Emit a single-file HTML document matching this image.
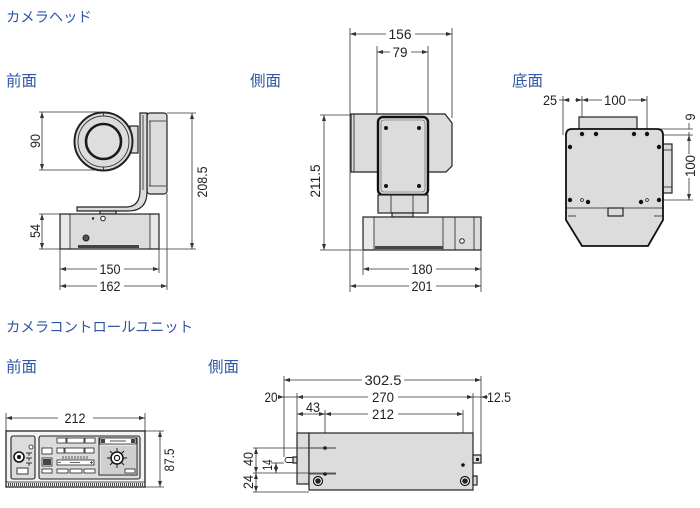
<!DOCTYPE html>
<html><head><meta charset="utf-8">
<style>
html,body{margin:0;padding:0;background:#fff;}
svg{display:block;}
.h{font-family:"Liberation Sans","Noto Sans CJK JP",sans-serif;fill:#2f56a8;}
.n{font-family:"Liberation Sans",sans-serif;font-size:14px;fill:#222;}
.d{stroke:#333;stroke-width:.8;fill:none;}
.o{stroke:#222;stroke-width:1.2;fill:#dcdcdc;}
.t{stroke:#222;stroke-width:.8;fill:none;}
</style></head>
<body>
<svg width="700" height="508" viewBox="0 0 700 508" xmlns="http://www.w3.org/2000/svg">
<defs>
<marker id="a" viewBox="0 0 6 4" refX="6" refY="2" markerWidth="6" markerHeight="4" markerUnits="userSpaceOnUse" orient="auto"><path d="M0,0L6,2L0,4z" fill="#333"/></marker>
</defs>

<!-- headings -->
<text class="h" x="6" y="22" font-size="14.3">カメラヘッド</text>
<text class="h" x="6" y="86" font-size="15.5">前面</text>
<text class="h" x="250" y="86" font-size="15.5">側面</text>
<text class="h" x="512" y="86" font-size="15.5">底面</text>
<text class="h" x="6" y="332" font-size="14.4">カメラコントロールユニット</text>
<text class="h" x="6" y="372" font-size="15.5">前面</text>
<text class="h" x="208" y="372" font-size="15.5">側面</text>

<!-- ============ CAMERA FRONT ============ -->
<!-- extension lines -->
<line class="d" x1="39" y1="112" x2="100" y2="112"/>
<line class="d" x1="39" y1="170" x2="100" y2="170"/>
<line class="d" x1="39" y1="214" x2="60" y2="214"/>
<line class="d" x1="39" y1="249" x2="60" y2="249"/>
<line class="d" x1="167" y1="113" x2="196" y2="113"/>
<line class="d" x1="159" y1="249" x2="196" y2="249"/>
<line class="d" x1="60" y1="249" x2="60" y2="290"/>
<line class="d" x1="159" y1="249" x2="159" y2="273"/>
<line class="d" x1="167" y1="194" x2="167" y2="290"/>
<!-- dims -->
<line class="d" x1="42" y1="141" x2="42" y2="112" marker-end="url(#a)"/>
<line class="d" x1="42" y1="141" x2="42" y2="170" marker-end="url(#a)"/>
<line class="d" x1="42" y1="231" x2="42" y2="214" marker-end="url(#a)"/>
<line class="d" x1="42" y1="231" x2="42" y2="249" marker-end="url(#a)"/>
<line class="d" x1="192" y1="180" x2="192" y2="113" marker-end="url(#a)"/>
<line class="d" x1="192" y1="180" x2="192" y2="249" marker-end="url(#a)"/>
<line class="d" x1="97" y1="269" x2="60" y2="269" marker-end="url(#a)"/>
<line class="d" x1="124" y1="269" x2="159" y2="269" marker-end="url(#a)"/>
<line class="d" x1="97" y1="286" x2="60" y2="286" marker-end="url(#a)"/>
<line class="d" x1="124" y1="286" x2="167" y2="286" marker-end="url(#a)"/>
<text class="n" transform="translate(40,141) rotate(-90)" text-anchor="middle" textLength="14" lengthAdjust="spacingAndGlyphs">90</text>
<text class="n" transform="translate(40,231) rotate(-90)" text-anchor="middle" textLength="14" lengthAdjust="spacingAndGlyphs">54</text>
<text class="n" transform="translate(207,182) rotate(-90)" text-anchor="middle" textLength="31" lengthAdjust="spacingAndGlyphs">208.5</text>
<text class="n" x="110" y="274" text-anchor="middle" textLength="21" lengthAdjust="spacingAndGlyphs">150</text>
<text class="n" x="110" y="291" text-anchor="middle" textLength="21" lengthAdjust="spacingAndGlyphs">162</text>
<!-- right panel -->
<rect class="o" x="147" y="113" width="20" height="81" rx="3"/>
<line class="t" x1="149" y1="121" x2="166" y2="121"/>
<line class="t" x1="149" y1="186" x2="166" y2="186"/>
<line class="t" x1="150" y1="121" x2="150" y2="186"/>
<!-- arm -->
<path class="o" d="M140,113 L147,113 L147,192 Q147,211 128,211 L77,211 L77,207 L126,207 Q140,207 140,190 Z"/>
<line class="t" x1="143" y1="115" x2="143" y2="190"/>
<rect class="o" x="100" y="211" width="16" height="3"/>
<!-- tab -->
<rect class="o" x="130" y="126" width="8" height="27"/>
<!-- lens -->
<circle cx="103.5" cy="141.5" r="29" fill="#dcdcdc" stroke="#222" stroke-width="2"/>
<circle cx="103.5" cy="141.5" r="25.5" fill="none" stroke="#333" stroke-width=".9"/>
<circle cx="103.5" cy="141.5" r="17.5" fill="#dedede" stroke="#1a1a1a" stroke-width="2.6"/>
<line class="t" x1="103.5" y1="112.5" x2="103.5" y2="116"/>
<line class="t" x1="103.5" y1="167" x2="103.5" y2="170.5"/>
<!-- base -->
<rect class="o" x="60" y="214" width="99" height="35"/>
<rect x="61" y="215" width="9" height="33" fill="#e8e8e8"/>
<rect x="150" y="215" width="8" height="33" fill="#e8e8e8"/>
<line class="t" x1="70" y1="214" x2="70" y2="249"/>
<line class="t" x1="150" y1="214" x2="150" y2="249"/>
<rect x="78" y="245" width="61" height="3" fill="#444"/>
<circle cx="93" cy="218.5" r="1.2" fill="#222"/>
<circle cx="103" cy="218.5" r="2.3" fill="#fff" stroke="#222" stroke-width="1"/>
<circle cx="86" cy="238" r="3" fill="#555" stroke="#222" stroke-width="1"/>

<!-- ============ CAMERA SIDE ============ -->
<line class="d" x1="350" y1="28" x2="350" y2="292"/>
<line class="d" x1="452" y1="28" x2="452" y2="118"/>
<line class="d" x1="377" y1="46" x2="377" y2="118"/>
<line class="d" x1="428" y1="46" x2="428" y2="118"/>
<line class="d" x1="481" y1="250" x2="481" y2="292"/>
<line class="d" x1="363" y1="250" x2="363" y2="275"/>
<line class="d" x1="320" y1="115" x2="351" y2="115"/>
<line class="d" x1="320" y1="250" x2="362" y2="250"/>
<line class="d" x1="386" y1="34" x2="350" y2="34" marker-end="url(#a)"/>
<line class="d" x1="415" y1="34" x2="452" y2="34" marker-end="url(#a)"/>
<line class="d" x1="390" y1="52" x2="377" y2="52" marker-end="url(#a)"/>
<line class="d" x1="411" y1="52" x2="428" y2="52" marker-end="url(#a)"/>
<line class="d" x1="324" y1="180" x2="324" y2="115" marker-end="url(#a)"/>
<line class="d" x1="324" y1="180" x2="324" y2="250" marker-end="url(#a)"/>
<line class="d" x1="409" y1="269" x2="363" y2="269" marker-end="url(#a)"/>
<line class="d" x1="436" y1="269" x2="481" y2="269" marker-end="url(#a)"/>
<line class="d" x1="409" y1="286" x2="350" y2="286" marker-end="url(#a)"/>
<line class="d" x1="436" y1="286" x2="481" y2="286" marker-end="url(#a)"/>
<text class="n" x="400" y="39" text-anchor="middle" textLength="23" lengthAdjust="spacingAndGlyphs">156</text>
<text class="n" x="400" y="57" text-anchor="middle" textLength="15" lengthAdjust="spacingAndGlyphs">79</text>
<text class="n" transform="translate(320,181) rotate(-90)" text-anchor="middle" textLength="33" lengthAdjust="spacingAndGlyphs">211.5</text>
<text class="n" x="422" y="274" text-anchor="middle" textLength="21" lengthAdjust="spacingAndGlyphs">180</text>
<text class="n" x="422" y="291" text-anchor="middle" textLength="21" lengthAdjust="spacingAndGlyphs">201</text>
<!-- head -->
<path class="o" d="M351,114 L445,114 L452,123 L452,166 L446,172 L351,172 Z"/>
<line class="t" x1="354" y1="114" x2="354" y2="172"/>
<rect x="378" y="117" width="50" height="78" rx="5" fill="#dcdcdc" stroke="#111" stroke-width="2.4"/>
<rect x="381" y="120" width="44" height="72" rx="3" fill="none" stroke="#555" stroke-width=".6"/>
<circle cx="386" cy="128" r="2" fill="#111"/>
<circle cx="419" cy="128" r="2" fill="#111"/>
<circle cx="386" cy="186" r="2" fill="#111"/>
<circle cx="419" cy="186" r="2" fill="#111"/>
<!-- neck -->
<rect class="o" x="378" y="195" width="50" height="18"/>
<line class="t" x1="391" y1="195" x2="391" y2="213"/>
<line class="t" x1="413" y1="195" x2="413" y2="213"/>
<rect class="o" x="392" y="213" width="21" height="4"/>
<!-- base -->
<rect class="o" x="363" y="217" width="118" height="33"/>
<rect x="364" y="218" width="10" height="31" fill="#e8e8e8"/>
<line class="t" x1="374" y1="217" x2="374" y2="250"/>
<line class="t" x1="443" y1="217" x2="443" y2="250"/>
<line class="t" x1="455" y1="217" x2="455" y2="250"/>
<line class="t" x1="474" y1="217" x2="474" y2="250"/>
<circle cx="462" cy="241" r="2.3" fill="#fff" stroke="#222" stroke-width="1"/>
<rect x="375" y="246" width="68" height="3" fill="#444"/>

<!-- ============ BOTTOM VIEW ============ -->
<line class="d" x1="563" y1="96" x2="563" y2="135"/>
<line class="d" x1="582" y1="96" x2="582" y2="137"/>
<line class="d" x1="647" y1="96" x2="647" y2="137"/>
<line class="d" x1="559" y1="100" x2="563" y2="100"/>
<line class="d" x1="575" y1="100" x2="582" y2="100" marker-end="url(#a)"/>
<line class="d" x1="570" y1="100" x2="563" y2="100" marker-end="url(#a)"/>
<line class="d" x1="602" y1="100" x2="582" y2="100" marker-end="url(#a)"/>
<line class="d" x1="628" y1="100" x2="647" y2="100" marker-end="url(#a)"/>
<text class="n" x="550" y="105" text-anchor="middle" textLength="14" lengthAdjust="spacingAndGlyphs">25</text>
<text class="n" x="615" y="105" text-anchor="middle" textLength="22" lengthAdjust="spacingAndGlyphs">100</text>
<line class="d" x1="659" y1="129" x2="693" y2="129"/>
<line class="d" x1="648" y1="135" x2="693" y2="135"/>
<line class="d" x1="660" y1="200" x2="693" y2="200"/>
<line class="d" x1="689" y1="123" x2="689" y2="129"/>
<line class="d" x1="689" y1="132" x2="689" y2="135"/>
<line class="d" x1="689" y1="154" x2="689" y2="135" marker-end="url(#a)"/>
<line class="d" x1="689" y1="178" x2="689" y2="200" marker-end="url(#a)"/>
<text class="n" transform="translate(695,117) rotate(-90)" text-anchor="middle" textLength="7" lengthAdjust="spacingAndGlyphs">9</text>
<text class="n" transform="translate(695,166) rotate(-90)" text-anchor="middle" textLength="22" lengthAdjust="spacingAndGlyphs">100</text>
<!-- tabs -->
<rect class="o" x="579" y="117" width="58" height="12"/>
<rect class="o" x="663" y="144" width="9" height="49"/>
<line class="t" x1="663" y1="150" x2="672" y2="150"/>
<line class="t" x1="663" y1="187" x2="672" y2="187"/>
<!-- body -->
<path d="M572,129 L657,129 Q663,129 663,135 L663,220 L648,246 L582,246 L566,220 L566,135 Q566,129 572,129 Z" fill="#dcdcdc" stroke="#111" stroke-width="1.8"/>
<line class="t" x1="567" y1="208" x2="662" y2="208"/>
<rect class="o" x="608" y="208" width="15" height="8"/>
<line class="t" x1="568" y1="216" x2="576" y2="216"/>
<line class="t" x1="654" y1="216" x2="662" y2="216"/>
<g fill="#111">
<circle cx="582" cy="134" r="2.2"/><circle cx="596" cy="134" r="2.2"/>
<circle cx="634" cy="134" r="2.2"/><circle cx="647" cy="134" r="2.2"/>
<circle cx="570" cy="147" r="2.2"/><circle cx="659" cy="147" r="2.2"/>
<circle cx="570" cy="200" r="2.2"/><circle cx="588" cy="202" r="2.2"/>
<circle cx="641" cy="202" r="2.2"/><circle cx="659" cy="200" r="2.2"/>
</g>
<circle cx="582" cy="200" r="1.4" fill="#fff" stroke="#111" stroke-width=".8"/>
<circle cx="647" cy="200" r="1.4" fill="#fff" stroke="#111" stroke-width=".8"/>

<!-- ============ CONTROL UNIT FRONT ============ -->
<line class="d" x1="6" y1="413" x2="6" y2="431"/>
<line class="d" x1="145" y1="413" x2="145" y2="431"/>
<line class="d" x1="58" y1="418" x2="6" y2="418" marker-end="url(#a)"/>
<line class="d" x1="93" y1="418" x2="145" y2="418" marker-end="url(#a)"/>
<text class="n" x="75" y="423" text-anchor="middle" textLength="21" lengthAdjust="spacingAndGlyphs">212</text>
<line class="d" x1="145" y1="431" x2="164" y2="431"/>
<line class="d" x1="145" y1="487" x2="164" y2="487"/>
<line class="d" x1="160" y1="459" x2="160" y2="431" marker-end="url(#a)"/>
<line class="d" x1="160" y1="459" x2="160" y2="487" marker-end="url(#a)"/>
<text class="n" transform="translate(174,460) rotate(-90)" text-anchor="middle" textLength="23" lengthAdjust="spacingAndGlyphs">87.5</text>
<rect x="6" y="431" width="139" height="56" fill="#f4f4f4" stroke="#222" stroke-width="1.3"/>
<line x1="8" y1="484.5" x2="143" y2="484.5" stroke="#444" stroke-width="3" stroke-dasharray="1 1"/>
<line class="t" x1="6" y1="482" x2="145" y2="482"/>
<!-- left panel -->
<rect x="11" y="436" width="24" height="43" rx="2" fill="#dcdcdc" stroke="#222" stroke-width="1.1"/>
<circle cx="19" cy="457" r="5" fill="#fff" stroke="#111" stroke-width="1.6"/>
<circle cx="19" cy="457" r="2" fill="#111"/>
<circle cx="31" cy="447" r="2" fill="#fff" stroke="#222" stroke-width=".8"/>
<g stroke="#222" stroke-width=".9">
<line x1="26" y1="453" x2="32" y2="453"/><line x1="29" y1="453" x2="29" y2="456"/>
<line x1="26" y1="458" x2="32" y2="458"/><line x1="29" y1="458" x2="29" y2="461"/>
<line x1="26" y1="463" x2="32" y2="463"/><line x1="29" y1="463" x2="29" y2="466"/>
</g>
<rect x="17" y="468" width="11" height="6" fill="#fff" stroke="#222" stroke-width=".9"/>
<!-- middle panel -->
<rect x="39" y="436" width="101" height="43" rx="2" fill="#dcdcdc" stroke="#222" stroke-width="1.1"/>
<g fill="#fff" stroke="#222" stroke-width=".8">
<rect x="57" y="438" width="9" height="5"/><rect x="67" y="438" width="17" height="5"/><rect x="85" y="438" width="10" height="5"/>
<rect x="42" y="448" width="10" height="6"/><rect x="57" y="448" width="7" height="5"/><rect x="65" y="448" width="19" height="5"/><rect x="85" y="448" width="9" height="5"/>
<rect x="42" y="458" width="10" height="8"/><rect x="57" y="460" width="37" height="5"/>
<rect x="42" y="469" width="10" height="4"/><rect x="57" y="469" width="11" height="4"/><rect x="70" y="469" width="12" height="4"/><rect x="84" y="469" width="11" height="4"/>
</g>
<rect x="43" y="459" width="8" height="6" fill="#444"/>
<g stroke="#222" stroke-width=".7">
<line x1="63" y1="456" x2="63" y2="459"/><line x1="66" y1="456" x2="66" y2="459"/><line x1="69" y1="456" x2="69" y2="459"/><line x1="72" y1="456" x2="72" y2="459"/><line x1="75" y1="456" x2="75" y2="459"/><line x1="78" y1="456" x2="78" y2="459"/><line x1="81" y1="456" x2="81" y2="459"/><line x1="84" y1="456" x2="84" y2="459"/><line x1="87" y1="456" x2="87" y2="459"/>
<line x1="58" y1="462.5" x2="61" y2="462.5"/><line x1="90" y1="462.5" x2="93" y2="462.5"/><line x1="91.5" y1="461" x2="91.5" y2="464"/>
<line x1="70" y1="462.5" x2="80" y2="462.5"/>
</g>
<!-- joystick area -->
<rect x="99" y="438" width="38" height="37" fill="#e6e6e6" stroke="#222" stroke-width="1"/>
<rect x="100" y="438" width="36" height="6" fill="#fff" stroke="#222" stroke-width=".8"/>
<rect x="101" y="439" width="4" height="4" fill="#444"/><rect x="131" y="439" width="4" height="4" fill="#444"/>
<line x1="110" y1="441" x2="126" y2="441" stroke="#222" stroke-width=".8"/>
<rect x="101" y="446" width="35" height="28" fill="#cfcfcf"/>
<g stroke="#111" stroke-width=".9">
<line x1="117" y1="448" x2="117" y2="468"/><line x1="107" y1="458" x2="127" y2="458"/>
<line x1="110" y1="451" x2="124" y2="465"/><line x1="124" y1="451" x2="110" y2="465"/>
</g>
<circle cx="117" cy="458" r="6" fill="#fff" stroke="#111" stroke-width="1.5"/>
<circle cx="117" cy="458" r="2.6" fill="#fff" stroke="#111" stroke-width="1.2"/>
<rect x="125" y="469" width="10" height="4" fill="#fff" stroke="#222" stroke-width=".8"/>

<!-- ============ CONTROL UNIT SIDE ============ -->
<line class="d" x1="284" y1="376" x2="284" y2="457"/>
<line class="d" x1="481" y1="376" x2="481" y2="455"/>
<line class="d" x1="297" y1="393" x2="297" y2="433"/>
<line class="d" x1="473" y1="393" x2="473" y2="433"/>
<line class="d" x1="325" y1="410" x2="325" y2="474"/>
<line class="d" x1="463" y1="410" x2="463" y2="465"/>
<line class="d" x1="362" y1="380" x2="284" y2="380" marker-end="url(#a)"/>
<line class="d" x1="404" y1="380" x2="481" y2="380" marker-end="url(#a)"/>
<text class="n" x="383" y="385" text-anchor="middle" textLength="37" lengthAdjust="spacingAndGlyphs">302.5</text>
<line class="d" x1="278" y1="397" x2="284" y2="397" marker-end="url(#a)"/>
<line class="d" x1="284" y1="397" x2="297" y2="397"/>
<line class="d" x1="368" y1="397" x2="297" y2="397" marker-end="url(#a)"/>
<line class="d" x1="398" y1="397" x2="473" y2="397" marker-end="url(#a)"/>
<line class="d" x1="473" y1="397" x2="481" y2="397"/>
<line class="d" x1="488" y1="397" x2="481" y2="397" marker-end="url(#a)"/>
<text class="n" x="271" y="402" text-anchor="middle" textLength="13" lengthAdjust="spacingAndGlyphs">20</text>
<text class="n" x="383" y="402" text-anchor="middle" textLength="22" lengthAdjust="spacingAndGlyphs">270</text>
<text class="n" x="499" y="402" text-anchor="middle" textLength="24" lengthAdjust="spacingAndGlyphs">12.5</text>
<line class="d" x1="311" y1="414" x2="297" y2="414" marker-end="url(#a)"/>
<line class="d" x1="311" y1="414" x2="325" y2="414" marker-end="url(#a)"/>
<line class="d" x1="368" y1="414" x2="325" y2="414" marker-end="url(#a)"/>
<line class="d" x1="398" y1="414" x2="463" y2="414" marker-end="url(#a)"/>
<text class="n" x="313" y="412" text-anchor="middle" textLength="14" lengthAdjust="spacingAndGlyphs">43</text>
<text class="n" x="383" y="419" text-anchor="middle" textLength="22" lengthAdjust="spacingAndGlyphs">212</text>
<!-- body -->
<rect class="o" x="297" y="433" width="12" height="51"/>
<rect class="o" x="309" y="433" width="164" height="57"/>
<line class="t" x1="309" y1="448" x2="336" y2="448"/>
<line class="t" x1="309" y1="474" x2="336" y2="474"/>
<circle cx="325" cy="448" r="1.8" fill="#111"/>
<circle cx="325" cy="474" r="1.8" fill="#111"/>
<circle cx="463" cy="465" r="1.8" fill="#111"/>
<circle cx="318" cy="481" r="4.5" fill="#fff" stroke="#111" stroke-width="1.2"/>
<circle cx="318" cy="481" r="2.8" fill="#222"/>
<circle cx="465" cy="481" r="4.5" fill="#fff" stroke="#111" stroke-width="1.2"/>
<circle cx="465" cy="481" r="2.8" fill="#222"/>
<rect class="o" x="473" y="455" width="8" height="8"/>
<rect x="476" y="458" width="3" height="3" fill="#222"/>
<rect class="o" x="473" y="476" width="4" height="9"/>
<!-- plug -->
<rect x="285" y="457.5" width="9" height="5" rx="2.5" fill="#fff" stroke="#222" stroke-width=".9"/>
<rect class="o" x="293" y="457" width="4" height="6"/>
<!-- left dims -->
<line class="d" x1="253" y1="448" x2="336" y2="448"/>
<line class="d" x1="253" y1="473" x2="336" y2="473"/>
<line class="d" x1="253" y1="492" x2="309" y2="492"/>
<line class="d" x1="271" y1="463" x2="284" y2="463"/>
<line class="d" x1="256" y1="460" x2="256" y2="448" marker-end="url(#a)"/>
<line class="d" x1="256" y1="460" x2="256" y2="473" marker-end="url(#a)"/>
<line class="d" x1="256" y1="482" x2="256" y2="473" marker-end="url(#a)"/>
<line class="d" x1="256" y1="482" x2="256" y2="492" marker-end="url(#a)"/>
<line class="d" x1="276" y1="468" x2="276" y2="463" marker-end="url(#a)"/>
<line class="d" x1="276" y1="468" x2="276" y2="473" marker-end="url(#a)"/>
<text class="n" transform="translate(253,459) rotate(-90)" text-anchor="middle" textLength="14" lengthAdjust="spacingAndGlyphs">40</text>
<text class="n" transform="translate(253,482) rotate(-90)" text-anchor="middle" textLength="14" lengthAdjust="spacingAndGlyphs">24</text>
<text class="n" transform="translate(272,465) rotate(-90)" text-anchor="middle" textLength="11" lengthAdjust="spacingAndGlyphs">14</text>
</svg>
</body></html>
